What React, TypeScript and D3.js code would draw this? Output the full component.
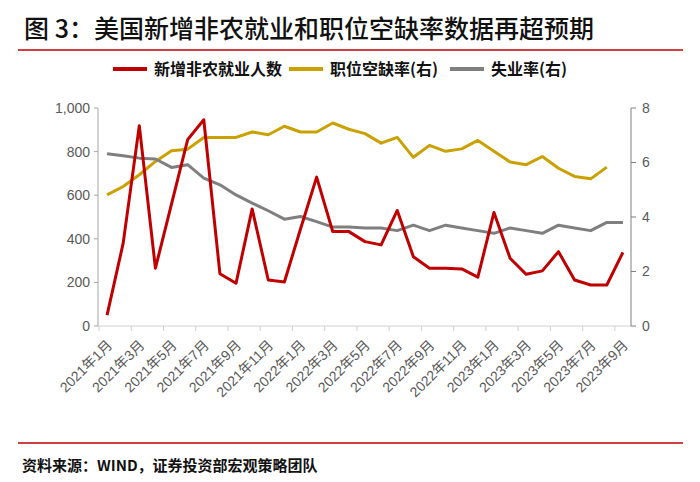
import React from "react";
import * as d3 from "d3";

const months: string[] = [];
for (let y = 2021; y <= 2023; y++) {
  for (let m = 1; m <= 12; m++) {
    if (y === 2023 && m > 9) break;
    months.push(`${y}年${m}月`);
  }
}

const payrolls = [50, 380, 919, 265, 560, 855, 946, 240, 196, 537, 211, 202,
  445, 683, 433, 433, 387, 372, 530, 318, 265, 265, 262, 224,
  521, 311, 237, 253, 341, 211, 188, 188, 338];

const openings: (number | null)[] = [4.81, 5.12, 5.55, 6.04, 6.43, 6.49, 6.92, 6.92, 6.92, 7.12, 7.02, 7.33,
  7.12, 7.12, 7.45, 7.22, 7.06, 6.71, 6.92, 6.19, 6.63, 6.41, 6.50, 6.81,
  6.41, 6.02, 5.92, 6.22, 5.79, 5.49, 5.40, 5.83, null];

const unemployment = [6.32, 6.25, 6.16, 6.13, 5.82, 5.92, 5.43, 5.18, 4.81, 4.51, 4.23, 3.92,
  4.02, 3.83, 3.63, 3.63, 3.6, 3.6, 3.5, 3.7, 3.5, 3.7, 3.6, 3.5,
  3.4, 3.6, 3.5, 3.4, 3.7, 3.6, 3.5, 3.8, 3.8];

const leftTicks = [0, 200, 400, 600, 800, 1000];
const rightTicks = [0, 2, 4, 6, 8];

const title = "图 3：美国新增非农就业和职位空缺率数据再超预期";
const source = "资料来源：WIND，证券投资部宏观策略团队";
const legendItems = [
  { label: "新增非农就业人数", color: "#C00000" },
  { label: "职位空缺率(右)", color: "#C9A100" },
  { label: "失业率(右)", color: "#7F7F7F" },
];

const W = 700, H = 482;
const L = 99, R = 631, T = 108, B = 326;
const latin = "'Liberation Sans', Arial, 'Noto Sans CJK SC', sans-serif";
const cjk = "'Noto Sans CJK SC', 'Liberation Sans', sans-serif";

export default function App() {
  const x = d3.scaleBand<string>().domain(months).range([L, R]).padding(0);
  const bw = x.bandwidth();
  const cx = (i: number) => (x(months[i]) as number) + bw / 2;
  const yL = d3.scaleLinear().domain([0, 1000]).range([B, T]);
  const yR = d3.scaleLinear().domain([0, 8]).range([B, T]);

  const lineL = d3.line<number>().x((_, i) => cx(i)).y((d) => yL(d));
  const lineR = d3.line<number | null>()
    .defined((d) => d !== null)
    .x((_, i) => cx(i))
    .y((d) => yR(d as number));

  const legendX = [113, 289, 450];
  const fmt = d3.format(",");

  return (
    <div style={{ position: "fixed", left: 0, top: 0 }}>
      <svg width={W} height={H} style={{ display: "block", background: "#fff" }}>
        <text x={24} y={38} fontFamily={cjk} fontSize={25} fontWeight={500} fill="#111">
          {title}
        </text>
        <line x1={18} x2={683} y1={50} y2={50} stroke="#C00000" strokeWidth={1.5} />

        {legendItems.map((it, k) => (
          <g key={it.label}>
            <line x1={legendX[k]} x2={legendX[k] + 34} y1={69} y2={69} stroke={it.color} strokeWidth={4} />
            <text x={legendX[k] + 41} y={75} fontFamily={cjk} fontSize={16} fontWeight={700} fill="#111">
              {it.label}
            </text>
          </g>
        ))}

        {/* bottom axis */}
        <line x1={L - 1} x2={R} y1={B} y2={B} stroke="#d0d0d0" strokeWidth={1} />
        {months.map((m, i) =>
          i % 2 === 0 ? (
            <line key={"t" + m} x1={x(m) as number} x2={x(m) as number} y1={B} y2={B + 5} stroke="#d0d0d0" />
          ) : null
        )}
        {months.map((m, i) =>
          i % 2 === 0 ? (
            <text
              key={"l" + m}
              transform={`translate(${cx(i) + 6},${B + 20}) rotate(-45)`}
              textAnchor="end"
              fontFamily={latin}
              fontSize={14}
              fill="#595959"
            >
              {m}
            </text>
          ) : null
        )}

        {/* left axis */}
        <line x1={L - 1} x2={L - 1} y1={T} y2={B} stroke="#a6a6a6" />
        {leftTicks.map((t) => (
          <g key={"yl" + t}>
            <line x1={L - 5} x2={L - 1} y1={yL(t)} y2={yL(t)} stroke="#a6a6a6" />
            <text x={L - 9} y={yL(t)} dy="0.35em" textAnchor="end" fontFamily={latin} fontSize={14} fill="#595959">
              {fmt(t)}
            </text>
          </g>
        ))}

        {/* right axis */}
        <line x1={R} x2={R} y1={T} y2={B} stroke="#7f7f7f" />
        {rightTicks.map((t) => (
          <g key={"yr" + t}>
            <line x1={R} x2={R + 5} y1={yR(t)} y2={yR(t)} stroke="#7f7f7f" />
            <text x={R + 11} y={yR(t)} dy="0.35em" textAnchor="start" fontFamily={latin} fontSize={14} fill="#595959">
              {t}
            </text>
          </g>
        ))}

        <path d={lineR(openings) || ""} fill="none" stroke={legendItems[1].color} strokeWidth={3} strokeLinejoin="round" />
        <path d={lineR(unemployment) || ""} fill="none" stroke={legendItems[2].color} strokeWidth={3} strokeLinejoin="round" />
        <path d={lineL(payrolls) || ""} fill="none" stroke={legendItems[0].color} strokeWidth={3} strokeLinejoin="round" />

        <line x1={18} x2={683} y1={443} y2={443} stroke="#C00000" strokeWidth={1.5} />
        <text x={22} y={471} fontFamily={cjk} fontSize={15} fontWeight={700} fill="#111">
          {source}
        </text>
      </svg>
    </div>
  );
}
